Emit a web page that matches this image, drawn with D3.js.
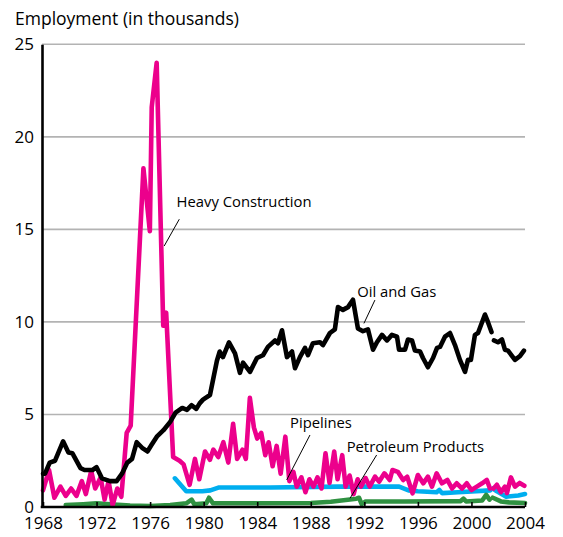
<!DOCTYPE html>
<html>
<head>
<meta charset="utf-8">
<script src="https://cdn.jsdelivr.net/npm/d3@7"></script>
<style>
  html, body { margin: 0; padding: 0; background: #fff; }
  svg { display: block; font-family: "Open Sans", "Noto Sans", sans-serif; }
</style>
</head>
<body>
<svg id="chart" width="563" height="537"></svg>
<script>
// Employment (thousands) by year; null marks a break in the series.
const oilGas = [
  [1968.0,1.8],[1968.15,1.8],[1968.5,2.4],[1968.9,2.5],[1969.5,3.55],[1969.9,2.95],[1970.2,2.9],
  [1970.8,2.1],[1971.1,2.0],[1971.7,2.0],[1972.0,2.15],[1972.4,1.55],[1973.0,1.4],[1973.5,1.4],
  [1973.9,1.8],[1974.3,2.4],[1974.65,2.6],[1975.0,3.5],[1975.4,3.2],[1975.8,3.0],[1976.1,3.35],
  [1976.5,3.8],[1977.0,4.15],[1977.5,4.6],[1977.9,5.1],[1978.4,5.35],[1978.75,5.25],[1979.1,5.5],
  [1979.45,5.3],[1979.7,5.6],[1979.95,5.8],[1980.47,6.05],[1980.99,7.9],[1981.2,8.4],[1981.44,8.1],
  [1981.89,8.9],[1982.34,8.3],[1982.71,7.25],[1982.94,7.8],[1983.46,7.3],[1983.98,8.05],[1984.43,8.2],
  [1984.8,8.65],[1985.33,9.0],[1985.55,8.85],[1985.85,9.55],[1986.22,8.1],[1986.6,8.4],[1986.82,7.5],
  [1987.19,8.1],[1987.57,8.6],[1987.79,8.2],[1988.16,8.85],[1988.69,8.9],[1988.91,8.75],[1989.43,9.4],
  [1989.8,9.6],[1990.03,10.8],[1990.4,10.65],[1990.78,10.8],[1991.15,11.2],[1991.52,9.65],[1991.9,9.5],
  [1992.27,9.6],[1992.65,8.5],[1992.94,8.9],[1993.32,9.3],[1993.69,9.0],[1994.06,9.3],[1994.44,9.2],
  [1994.59,8.5],[1995.04,8.5],[1995.26,9.05],[1995.56,9.0],[1995.78,8.45],[1996.16,8.4],[1996.38,8.05],
  [1996.75,7.55],[1997.13,8.05],[1997.43,8.6],[1997.65,8.65],[1998.02,9.2],[1998.4,9.4],[1998.77,8.75],
  [1999.14,7.95],[1999.52,7.3],[1999.74,7.95],[1999.96,7.95],[2000.26,9.3],[2000.49,9.4],[2001.01,10.4],
  [2001.23,10.0],[2001.5,9.45],[2001.58,null],[2001.68,9.0],[2001.98,8.9],[2002.28,9.05],[2002.5,8.5],
  [2002.73,8.45],[2003.25,7.95],[2003.62,8.15],[2003.92,8.45]
];

const heavyConstruction = [
  [1968.0,0.9],[1968.45,2.0],[1968.85,0.5],[1969.3,1.1],[1969.7,0.6],[1970.1,1.0],[1970.5,0.6],
  [1970.9,1.4],[1971.2,0.7],[1971.6,1.95],[1971.9,1.0],[1972.3,1.6],[1972.6,0.4],[1972.9,1.4],
  [1973.2,0.1],[1973.55,1.0],[1973.85,0.55],[1974.25,4.0],[1974.55,4.4],[1975.5,18.3],[1975.98,14.9],
  [1976.12,21.6],[1976.49,24.0],[1976.98,9.8],[1977.2,10.5],[1977.72,2.7],[1978.2,2.5],[1978.5,2.3],
  [1978.95,1.2],[1979.35,2.6],[1979.67,1.5],[1980.1,3.0],[1980.47,2.55],[1980.72,3.1],[1981.09,2.7],
  [1981.47,3.5],[1981.84,2.4],[1982.2,4.5],[1982.5,2.6],[1982.9,3.1],[1983.15,2.6],[1983.45,5.9],
  [1983.75,4.3],[1984.0,3.7],[1984.3,4.0],[1984.6,2.8],[1984.85,3.5],[1985.15,2.2],[1985.45,3.3],
  [1985.75,1.8],[1986.1,3.8],[1986.4,1.4],[1986.7,1.9],[1986.95,1.1],[1987.3,1.6],[1987.6,0.8],
  [1987.9,1.5],[1988.2,1.1],[1988.5,1.6],[1988.8,1.0],[1989.1,2.9],[1989.4,1.3],[1989.75,3.0],
  [1990.0,1.5],[1990.35,2.8],[1990.6,1.1],[1990.9,1.7],[1991.2,0.7],[1991.5,1.5],[1991.75,1.1],
  [1992.1,1.56],[1992.4,1.1],[1992.8,1.64],[1993.1,1.37],[1993.5,1.82],[1993.9,1.46],[1994.1,2.0],
  [1994.5,1.9],[1994.9,1.46],[1995.2,1.64],[1995.6,0.74],[1996.0,1.73],[1996.4,1.28],[1996.75,1.64],
  [1997.05,1.1],[1997.4,1.82],[1997.8,1.28],[1998.2,1.46],[1998.55,1.0],[1998.9,1.28],[1999.3,1.0],
  [1999.65,1.28],[2000.0,0.92],[2000.4,1.1],[2000.8,1.28],[2001.15,1.46],[2001.38,1.0],[2001.5,null],
  [2001.65,1.0],[2001.9,1.2],[2002.2,0.8],[2002.5,1.1],[2002.65,0.75],[2002.95,1.6],[2003.25,1.1],
  [2003.6,1.3],[2003.95,1.15]
];

const pipelines = [
  [1977.85,1.55],[1978.7,0.85],[1979.9,0.85],[1980.5,0.9],[1981.1,1.05],[1985.0,1.05],[1990.0,1.1],
  [1994.6,1.1],[1995.3,0.9],[1996.0,0.85],[1997.4,0.8],[1997.6,0.92],[1997.8,0.75],[1999.0,0.8],
  [2001.4,0.9],[2001.5,null],[2001.6,1.0],[2001.9,0.85],[2002.6,0.56],[2003.5,0.62],[2004.0,0.7]
];

const petroleumProducts = [
  [1969.7,0.1],[1971.0,0.15],[1972.0,0.2],[1973.0,0.15],[1974.5,0.08],[1976.0,0.05],[1977.5,0.1],
  [1978.7,0.2],[1979.1,0.4],[1979.3,0.15],[1980.2,0.2],[1980.4,0.5],[1980.7,0.2],[1984.0,0.2],
  [1988.0,0.22],[1989.5,0.28],[1991.4,0.45],[1991.6,0.5],[1991.8,0.15],[1992.1,0.3],[1995.0,0.3],
  [1999.2,0.32],[1999.4,0.45],[1999.6,0.3],[2000.8,0.35],[2001.1,0.65],[2001.35,0.4],[2001.5,null],
  [2001.6,0.5],[2002.2,0.3],[2002.8,0.25],[2004.0,0.22]
];

const yTicks = [0, 5, 10, 15, 20, 25];
const xTicks = [1968, 1972, 1976, 1980, 1984, 1988, 1992, 1996, 2000, 2004];

const series = [
  { name: "Pipelines", data: pipelines, color: "#00aeef" },
  { name: "Petroleum Products", data: petroleumProducts, color: "#2f9141" },
  { name: "Heavy Construction", data: heavyConstruction, color: "#ec008c" },
  { name: "Oil and Gas", data: oilGas, color: "#000000" }
];

// Series labels with their leader lines (text anchor, leader start, leader end in data units)
const labels = [
  { text: "Heavy Construction", at: [1977.98, 16.2], from: [1978.18, 15.55], to: [1977.05, 14.1] },
  { text: "Oil and Gas", at: [1991.47, 11.36], from: [1992.79, 11.18], to: [1991.97, 9.92] },
  { text: "Pipelines", at: [1986.45, 4.25], from: [1987.94, 3.89], to: [1986.2, 1.46] },
  { text: "Petroleum Products", at: [1990.68, 2.99], from: [1992.92, 2.81], to: [1990.93, 0.47] }
];

const svg = d3.select("#chart");
const x = d3.scaleLinear().domain([1968, 2004]).range([43, 525]);
const y = d3.scaleLinear().domain([0, 25]).range([507, 44.3]);

// Horizontal gridlines
svg.append("g")
  .selectAll("line")
  .data(yTicks.filter(d => d > 0))
  .join("line")
  .attr("x1", 42).attr("x2", x(2004))
  .attr("y1", d => y(d)).attr("y2", d => y(d))
  .attr("stroke", "#b3b3b3").attr("stroke-width", 1.6);

// Series lines
const line = d3.line()
  .defined(d => d[1] !== null)
  .x(d => x(d[0]))
  .y(d => y(d[1]))
  .curve(d3.curveLinear);

svg.append("g")
  .selectAll("path")
  .data(series)
  .join("path")
  .attr("d", d => line(d.data))
  .attr("fill", "none")
  .attr("stroke", d => d.color)
  .attr("stroke-width", 4.6)
  .attr("stroke-linejoin", "round")
  .attr("stroke-linecap", "round");

// Y axis
const yAxis = svg.append("g").attr("transform", "translate(42,0)")
  .call(d3.axisLeft(y).tickValues(yTicks).tickSize(0).tickPadding(8).tickFormat(d3.format("d")));
yAxis.select(".domain").attr("stroke", "#000").attr("stroke-width", 2.6);
yAxis.selectAll("text").attr("font-size", 17).attr("fill", "#000")
  .attr("font-family", "'Open Sans', sans-serif");

// X axis with ticks pointing into the plot
const xAxis = svg.append("g").attr("transform", `translate(0,${y(0)})`)
  .call(d3.axisBottom(x).tickValues(xTicks).tickSizeInner(-5).tickSizeOuter(0).tickPadding(10).tickFormat(d3.format("d")));
xAxis.select(".domain").attr("stroke", "#000").attr("stroke-width", 2.6)
  .attr("d", `M${40.7},0H${x(2004)}`);
xAxis.selectAll(".tick line").attr("stroke", "#000").attr("stroke-width", 1.6);
xAxis.selectAll("text").attr("font-size", 17).attr("fill", "#000")
  .attr("font-family", "'Open Sans', sans-serif");

// Title
svg.append("text")
  .attr("x", 15).attr("y", 25)
  .attr("font-size", 17.5)
  .attr("fill", "#000")
  .text("Employment (in thousands)");

// Series labels and leaders
const lab = svg.append("g");
lab.selectAll("line")
  .data(labels)
  .join("line")
  .attr("x1", d => x(d.from[0])).attr("y1", d => y(d.from[1]))
  .attr("x2", d => x(d.to[0])).attr("y2", d => y(d.to[1]))
  .attr("stroke", "#000").attr("stroke-width", 1);
lab.selectAll("text")
  .data(labels)
  .join("text")
  .attr("x", d => x(d.at[0])).attr("y", d => y(d.at[1]))
  .attr("font-size", 14.8)
  .attr("fill", "#000")
  .text(d => d.text);
</script>
</body>
</html>
